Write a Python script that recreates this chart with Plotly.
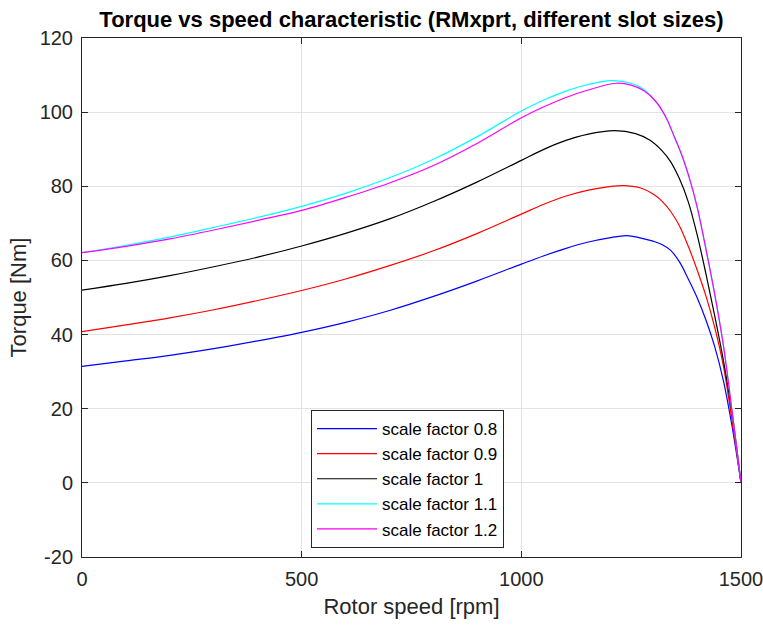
import plotly.graph_objects as go

# Rotor speed [rpm] and torque [Nm]
rpm_08 = [0, 100, 200, 300, 400, 500, 600, 700, 800, 900, 1000, 1050, 1100, 1150, 1200, 1240, 1270, 1300, 1320, 1340, 1360, 1380, 1400, 1420, 1440, 1460, 1480, 1500]
trq_08 = [31.4, 32.9, 34.4, 36.2, 38.3, 40.6, 43.3, 46.5, 50.3, 54.5, 59.0, 61.2, 63.2, 64.9, 66.1, 66.7, 66.1, 65.2, 64.3, 62.7, 59.6, 55.0, 50.0, 44.0, 36.8, 27.5, 15.0, 0.0]

rpm_09 = [0, 100, 200, 300, 400, 500, 600, 700, 800, 900, 1000, 1050, 1100, 1150, 1200, 1232, 1270, 1300, 1320, 1340, 1360, 1380, 1400, 1420, 1440, 1460, 1480, 1500]
trq_09 = [40.8, 42.6, 44.5, 46.7, 49.2, 51.9, 55.0, 58.6, 62.6, 67.3, 72.5, 75.1, 77.3, 78.9, 79.9, 80.2, 79.6, 77.9, 76.0, 73.2, 69.3, 63.8, 57.5, 50.5, 42.0, 31.5, 16.5, 0.0]

rpm_10 = [0, 100, 200, 300, 400, 500, 600, 700, 800, 900, 1000, 1050, 1100, 1150, 1213, 1260, 1293, 1320, 1340, 1360, 1380, 1400, 1420, 1440, 1460, 1480, 1500]
trq_10 = [52.0, 53.8, 55.9, 58.3, 60.9, 63.9, 67.3, 71.2, 75.9, 81.2, 87.0, 89.9, 92.3, 94.0, 95.0, 94.2, 92.4, 89.6, 86.6, 82.0, 75.8, 67.0, 56.5, 45.2, 33.0, 18.5, 0.0]

rpm_11 = [0, 100, 200, 300, 400, 500, 600, 700, 800, 900, 1000, 1050, 1100, 1150, 1205, 1250, 1280, 1308, 1330, 1346, 1365, 1384, 1400, 1422, 1440, 1460, 1480, 1500]
trq_11 = [62.1, 64.1, 66.3, 68.9, 71.6, 74.6, 78.1, 82.3, 87.3, 93.4, 100.3, 103.2, 105.6, 107.4, 108.5, 107.8, 106.0, 102.6, 98.4, 94.0, 88.5, 81.6, 74.5, 62.0, 51.0, 37.0, 19.0, 0.0]

rpm_12 = [0, 100, 200, 300, 400, 500, 600, 700, 800, 900, 1000, 1050, 1100, 1150, 1215, 1250, 1280, 1308, 1330, 1346, 1365, 1384, 1400, 1422, 1440, 1460, 1480, 1500]
trq_12 = [62.1, 63.8, 65.8, 68.2, 70.8, 73.5, 77.0, 80.9, 85.6, 91.6, 98.5, 101.4, 103.9, 105.9, 107.8, 107.3, 105.7, 102.6, 98.4, 94.0, 88.5, 81.6, 74.5, 62.0, 51.0, 37.0, 19.0, 0.0]

series = [
    ("scale factor 0.8", rpm_08, trq_08, "#0000ff"),
    ("scale factor 0.9", rpm_09, trq_09, "#ff0000"),
    ("scale factor 1", rpm_10, trq_10, "#000000"),
    ("scale factor 1.1", rpm_11, trq_11, "#00ffff"),
    ("scale factor 1.2", rpm_12, trq_12, "#ff00ff"),
]

x_ticks = [0, 500, 1000, 1500]
x_tick_labels = ["0", "500", "1000", "1500"]
y_ticks = [-20, 0, 20, 40, 60, 80, 100, 120]
y_tick_labels = ["-20", "0", "20", "40", "60", "80", "100", "120"]

fig = go.Figure()
for name, x, y, color in series:
    fig.add_trace(go.Scatter(
        x=x, y=y, name=name, mode="lines",
        line=dict(color=color, width=1.2, shape="spline", smoothing=1.0),
    ))

font_family = "Liberation Sans, Arial, sans-serif"
axis_common = dict(
    showline=True, linecolor="#262626", linewidth=1, mirror="ticks",
    ticks="inside", ticklen=6, tickcolor="#262626",
    showgrid=True, gridcolor="#e3e3e3", gridwidth=1,
    zeroline=False, automargin=False,
    tickfont=dict(family=font_family, size=20, color="#262626"),
    ticklabelstandoff=4, ticklabeloverflow="allow",
)

fig.update_layout(
    width=763, height=625,
    margin=dict(l=82, r=22, t=38, b=68),
    paper_bgcolor="white", plot_bgcolor="white",
    font=dict(family=font_family, color="#262626"),
    title=dict(
        text="<b>Torque vs speed characteristic (RMxprt, different slot sizes)</b>",
        x=(82 + 741) / 2 / 763, xanchor="center", y=1 - 19 / 625, yanchor="middle",
        font=dict(family=font_family, size=22, color="#000000"),
    ),
    xaxis=dict(
        range=[0, 1500], tickvals=x_ticks, ticktext=x_tick_labels,
        title=dict(text="Rotor speed [rpm]", font=dict(family=font_family, size=22, color="#262626"), standoff=9),
        **axis_common,
    ),
    yaxis=dict(
        range=[-20, 120], tickvals=y_ticks, ticktext=y_tick_labels,
        title=dict(text="Torque [Nm]", font=dict(family=font_family, size=22, color="#262626"), standoff=6),
        **axis_common,
    ),
    legend=dict(
        x=(311 - 82) / 659, y=(557 - 410) / 519, xanchor="left", yanchor="top",
        bgcolor="white", bordercolor="#262626", borderwidth=1,
        font=dict(family=font_family, size=17, color="#000000"),
        tracegroupgap=0, itemwidth=60,
    ),
    showlegend=True,
)

fig.write_html("out.html")
